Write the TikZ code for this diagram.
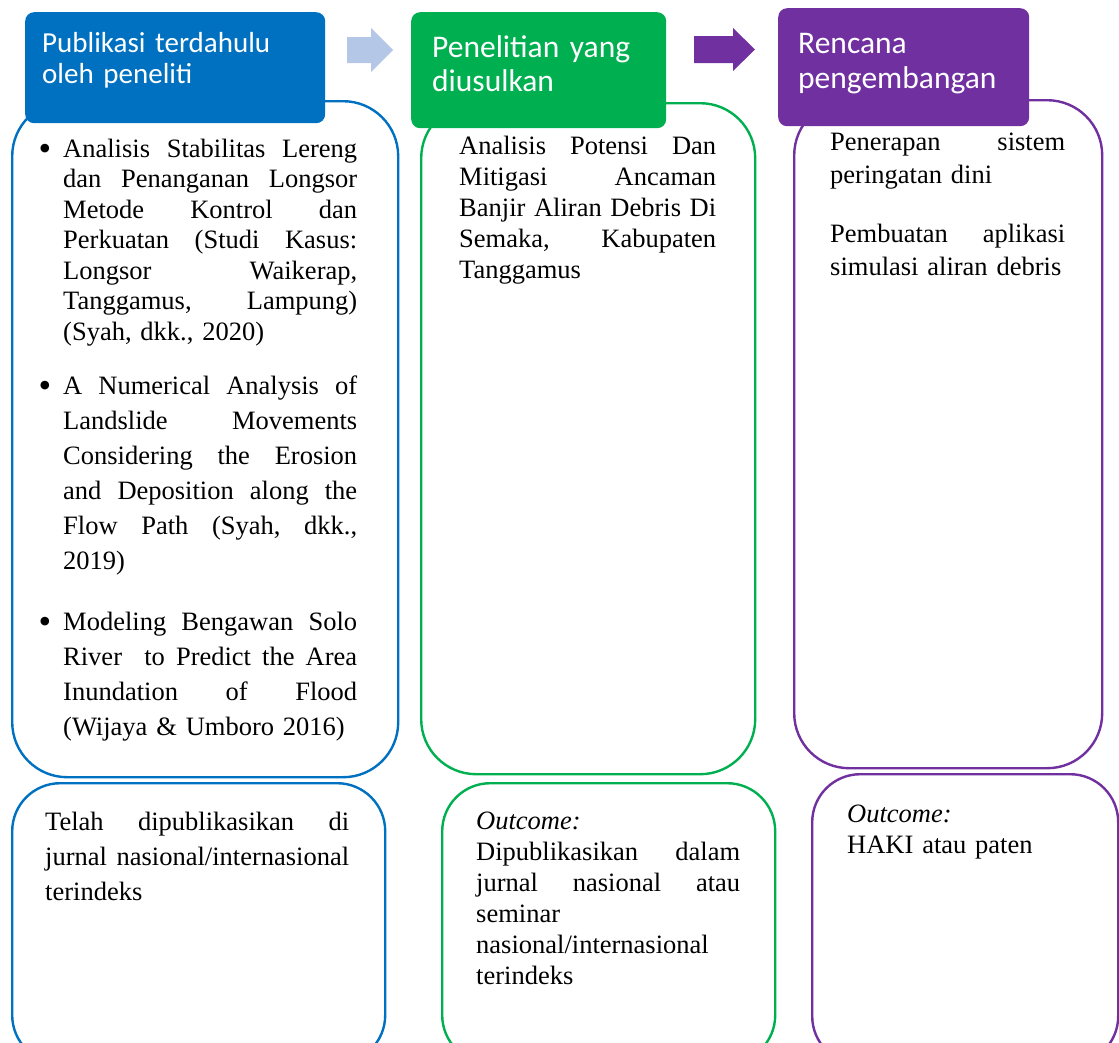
\documentclass[tikz,border=0pt]{standalone}
\usepackage{fontspec}
\setmainfont{Liberation Serif}
\newfontfamily\headfont{Carlito}
\usetikzlibrary{calc}
\definecolor{pubblue}{HTML}{0070C0}
\definecolor{propgreen}{HTML}{00B050}
\definecolor{planpurple}{HTML}{7030A0}
\definecolor{arrowblue}{HTML}{B4C7E7}
\newcommand{\jline}[1]{\leavevmode\hbox to\hsize{#1}}
\newcommand{\gap}{\hfill}
\newcommand{\itembullet}{\leavevmode\llap{\raisebox{-3pt}{\fontsize{36}{36}\selectfont\textbullet}\hspace{12pt}}}
\tikzset{
  panel/.style={draw, line width=2.4pt, rounded corners=55pt, fill=white,
                anchor=north west, inner sep=0pt},
  outpanel/.style={panel, rounded corners=48pt},
  header/.style={rounded corners=9pt, anchor=north west, inner sep=0pt},
  title/.style={font=\headfont\fontsize{29}{31}\selectfont, text=white,
                anchor=base west, inner sep=0pt, align=left, text width=280pt},
  txt/.style={font=\fontsize{26.5}{#1}\selectfont, anchor=base west,
              inner sep=0pt, align=left},
  txt/.default=31,
}
\begin{document}
\begin{tikzpicture}[x=1pt, y=-1pt]
  \useasboundingbox (0,0) rectangle (1119,1042);
  % panels
  \node[panel, draw=pubblue, minimum width=386pt, minimum height=676pt] (pubbody) at (11,100) {};
  \node[panel, draw=propgreen, minimum width=334pt, minimum height=671pt] (propbody) at (420,102) {};
  \node[panel, draw=planpurple, minimum width=308pt, minimum height=668pt] (planbody) at (793,99) {};
  \node[outpanel, draw=pubblue, minimum width=373pt, minimum height=280pt] (pubout) at (11,782) {};
  \node[outpanel, draw=propgreen, minimum width=333pt, minimum height=280pt] (propout) at (441,782) {};
  \node[outpanel, draw=planpurple, minimum width=306pt, minimum height=290pt] (planout) at (811,773) {};
  % headers
  \node[header, fill=pubblue, minimum width=300pt, minimum height=111pt] (pubhead) at (25,12) {};
  \node[header, fill=propgreen, minimum width=255pt, minimum height=116pt] (prophead) at (411,12) {};
  \node[header, fill=planpurple, minimum width=251pt, minimum height=118pt] (planhead) at (778,8) {};
  \node[title] (pubtitle) at (42,52) {Publikasi terdahulu\\oleh peneliti};
  \node[title, font=\headfont\fontsize{31.5}{34}\selectfont] (proptitle) at (432,57) {Penelitian yang\\diusulkan};
  \node[title, font=\headfont\fontsize{31.5}{35}\selectfont] (plantitle) at (798,53) {Rencana\\pengembangan};
  % arrows
  \fill[arrowblue] (347,37) -- (371,37) -- (371,28) -- (393,50) -- (371,72) -- (371,63) -- (347,63) -- cycle;
  \fill[planpurple] (694,36) -- (733,36) -- (733,28) -- (755,49.5) -- (733,71) -- (733,63) -- (694,63) -- cycle;
  % previous publications
  \node[txt=30.5, text width=294pt] (itema) at (63,157)
    {\itembullet\jline{Analisis\gap Stabilitas\gap Lereng}\\
     \jline{dan\gap Penanganan\gap Longsor}\\
     \jline{Metode\gap Kontrol\gap dan}\\
     \jline{Perkuatan\gap (Studi\gap Kasus:}\\
     \jline{Longsor\gap Waikerap,}\\
     \jline{Tanggamus,\gap Lampung)}\\
     (Syah, dkk., 2020)};
  \node[txt=35, text width=294pt] (itemb) at (63,394)
    {\itembullet\jline{A\gap Numerical\gap Analysis\gap of}\\
     \jline{Landslide\gap Movements}\\
     \jline{Considering\gap the\gap Erosion}\\
     \jline{and\gap Deposition\gap along\gap the}\\
     \jline{Flow\gap Path\gap (Syah,\gap dkk.,}\\
     2019)};
  \node[txt=35, text width=294pt] (itemc) at (63,630)
    {\itembullet\jline{Modeling\gap Bengawan\gap Solo}\\
     \jline{River\gap\gap to\gap Predict\gap the\gap Area}\\
     \jline{Inundation\gap of\gap Flood}\\
     (Wijaya \& Umboro 2016)};
  % proposed research
  \node[txt=31, text width=257pt] (proptext) at (459,154)
    {\jline{Analisis\gap Potensi\gap Dan}\\
     \jline{Mitigasi\gap Ancaman}\\
     \jline{Banjir\gap Aliran\gap Debris\gap Di}\\
     \jline{Semaka,\gap Kabupaten}\\
     Tanggamus};
  % development plan
  \node[txt=33, text width=235pt] (planews) at (830,150)
    {\jline{Penerapan\gap sistem}\\peringatan dini};
  \node[txt=33, text width=235pt] (planapp) at (830,242)
    {\jline{Pembuatan\gap aplikasi}\\simulasi aliran debris};
  % outcomes
  \node[txt=35, text width=304pt] (pubres) at (45,830)
    {\jline{Telah\gap dipublikasikan\gap di}\\
     \jline{jurnal\gap nasional/internasional}\\
     terindeks};
  \node[txt=31, text width=264pt] (propres) at (476,829)
    {\textit{Outcome:}\\
     \jline{Dipublikasikan\gap dalam}\\
     \jline{jurnal\gap nasional\gap atau}\\
     seminar\\
     nasional/internasional\\
     terindeks};
  \node[txt=31, text width=240pt] (planres) at (847,822)
    {\textit{Outcome:}\\HAKI atau paten};
\end{tikzpicture}
\end{document}
